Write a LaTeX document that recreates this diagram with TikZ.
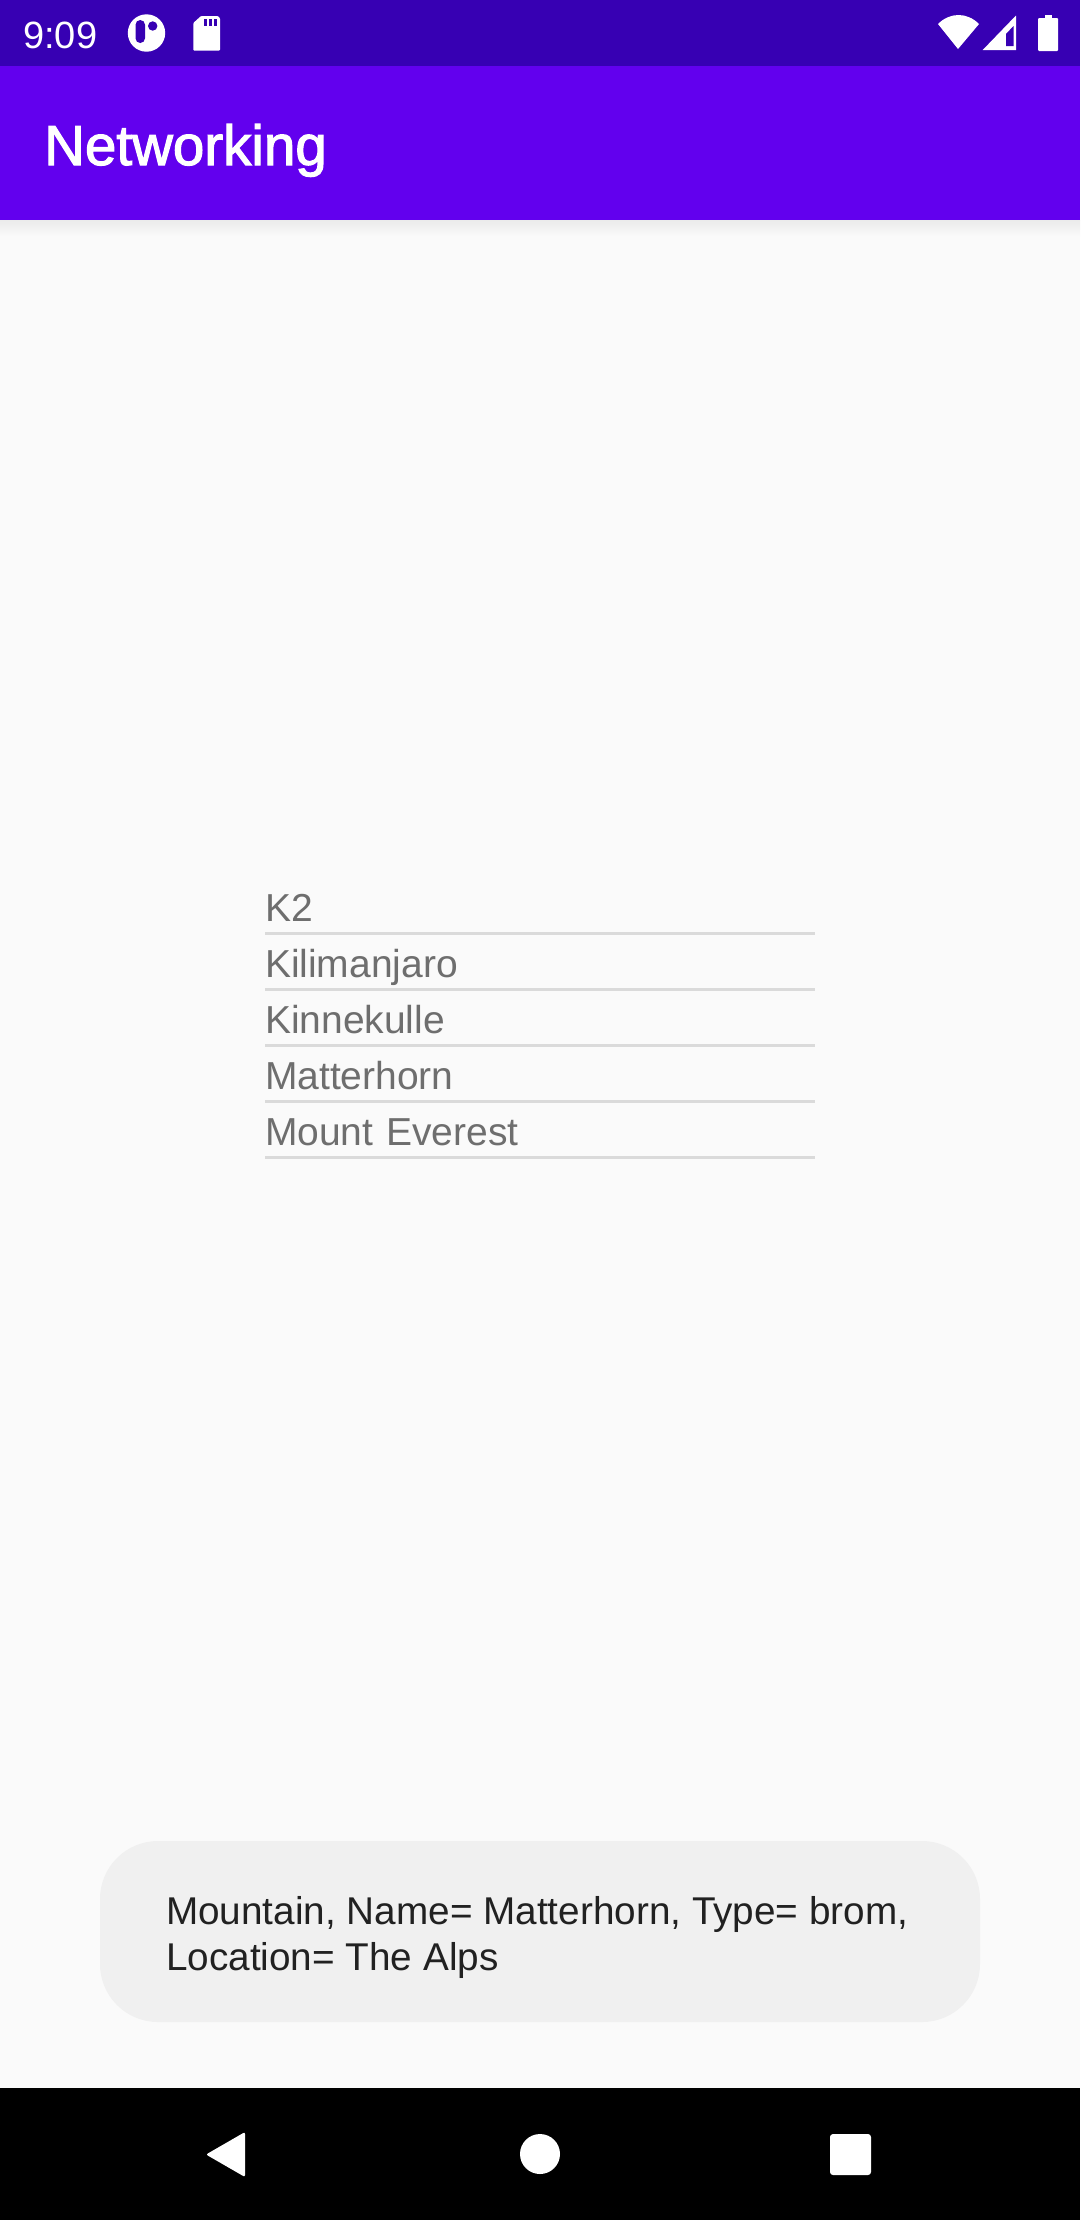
\documentclass[tikz,border=0pt]{standalone}
\usepackage{fontspec}
\setmainfont{Liberation Sans}
\newfontfamily\titlefont[FakeBold=2]{Liberation Sans}
\usetikzlibrary{positioning}
\definecolor{barcolor}{HTML}{3700B3}
\definecolor{appcolor}{HTML}{6200EE}
\definecolor{pagecolor}{HTML}{FAFAFA}
\definecolor{toastcolor}{HTML}{F0F0F0}
\definecolor{itemcolor}{HTML}{6E6E6E}
\definecolor{rulecolor}{HTML}{DADADA}
\definecolor{toasttext}{HTML}{212121}

\begin{document}
\begin{tikzpicture}[x=1pt,y=-1pt]
	\tikzstyle{item}=[text=itemcolor,font=\fontsize{39}{39}\selectfont,text width=550pt,align=left,inner sep=0pt,outer sep=0pt,anchor=north west,text height=44pt,text depth=12pt]
	\tikzstyle{icon}=[fill=white,draw=none]
	\useasboundingbox (0,0) rectangle (1080,2220);
	\fill[pagecolor] (0,0) rectangle (1080,2220);
	% bars
	\fill[top color=black!8,bottom color=pagecolor] (0,220) rectangle (1080,236);
	\fill[appcolor] (0,66) rectangle (1080,220);
	\fill[barcolor] (0,0) rectangle (1080,66);
	\fill[black] (0,2088) rectangle (1080,2220);
	\node (title) [text=white,font=\titlefont\fontsize{56.5}{56.5}\selectfont,inner sep=0pt,anchor=base west] at (44,165) {Networking};
	\node (time) [text=white,font=\fontsize{38}{38}\selectfont,inner sep=0pt,anchor=base west] at (23,48) {9:09};
	% left icons
	\fill[icon] (146.5,33) circle (18.7);
	\fill[barcolor,rounded corners=4.7pt] (135.5,20) rectangle (145,43);
	\fill[barcolor] (152.7,26) circle (4.7);
	\fill[icon,rounded corners=1pt] (201,16) -- (218,16) -- (220,18) -- (220,50.7) -- (193.3,50.7) -- (193.3,23) -- cycle;
	\foreach \x in {203.7,208.7,213.7}
		\fill[barcolor] (\x,19.3) rectangle +(3.3,6.7);
	% right icons
	\fill[icon] (958,49) -- (938,24) .. controls (950,12) and (967,12) .. (979,24) -- cycle;
	\fill[icon] (982.7,50) -- (1016,15.5) -- (1016,50) -- cycle;
	\fill[barcolor] (1006,34) -- (1013.5,26) -- (1013.5,46) -- (1006,46) -- cycle;
	\fill[icon] (1045,15) rectangle (1052,19);
	\fill[icon,rounded corners=1pt] (1038,18) rectangle (1058,51);
	% list
	\node (k2) [item] at (265,877) {K2};
	\node (kili) [item,below=0pt of k2] {Kilimanjaro};
	\node (kinne) [item,below=0pt of kili] {Kinnekulle};
	\node (matter) [item,below=0pt of kinne] {Matterhorn};
	\node (everest) [item,below=0pt of matter] {Mount Everest};
	\foreach \n in {k2,kili,kinne,matter,everest}
		\draw[rulecolor,line width=3pt] (\n.south west) -- (\n.south east);
	% toast
	\fill[toastcolor,rounded corners=58pt] (100,1841) rectangle (980,2022);
	\node (toast) [text=toasttext,font=\fontsize{38.7}{46}\selectfont,inner sep=0pt,anchor=base west,align=left] at (166,1970) {Mountain, Name= Matterhorn, Type= brom,\\Location= The Alps};
	% navigation
	\fill[icon,rounded corners=2pt] (245,2132) -- (245,2177) -- (206,2154.5) -- cycle;
	\fill[icon] (540,2154) circle (20);
	\fill[icon,rounded corners=3pt] (830,2134) rectangle (871,2175);
\end{tikzpicture}
\end{document}
